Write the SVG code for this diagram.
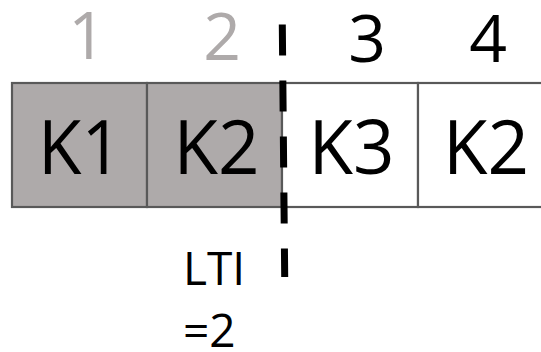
<svg xmlns="http://www.w3.org/2000/svg" width="541" height="352" viewBox="0 0 541 352">
<style>
.cell{stroke:#595959;stroke-width:2.2}
.used{fill:#AEAAAA}
.free{fill:#FFFFFF}
.key{font-family:"Open Sans","Liberation Sans",sans-serif;font-size:75px;fill:#000;text-anchor:middle}
.idx{font-family:"Open Sans","Liberation Sans",sans-serif;font-size:66px;text-anchor:middle}
.idx.g{fill:#AEAAAA}
.idx.b{fill:#000}
.lbl{font-family:"Open Sans","Liberation Sans",sans-serif;font-size:46px;fill:#000}
.cut{stroke:#000;stroke-width:7;stroke-dasharray:31 25;fill:none}
</style>
<rect width="541" height="352" fill="#FFFFFF"/>
<g id="slot1">
<rect class="cell used" x="12" y="83" width="135" height="124"/>
<text class="idx g" x="87" y="59">1</text>
<text class="key" x="80" y="174" textLength="84" lengthAdjust="spacingAndGlyphs">K1</text>
</g>
<g id="slot2">
<rect class="cell used" x="147" y="83" width="135" height="124"/>
<text class="idx g" x="222" y="60">2</text>
<text class="key" x="216.5" y="174" textLength="86" lengthAdjust="spacingAndGlyphs">K2</text>
</g>
<g id="slot3">
<rect class="cell free" x="282" y="83" width="136" height="124"/>
<text class="idx b" x="367" y="62">3</text>
<text class="key" x="351.5" y="174" textLength="86" lengthAdjust="spacingAndGlyphs">K3</text>
</g>
<g id="slot4">
<rect class="cell free" x="418" y="83" width="140" height="124"/>
<text class="idx b" x="488" y="62">4</text>
<text class="key" x="486" y="174" textLength="86" lengthAdjust="spacingAndGlyphs">K2</text>
</g>
<g id="label">
<text class="lbl" x="183" y="285">LTI</text>
<text class="lbl" x="183" y="347">=2</text>
</g>
<g id="connectors">
<line class="cut" x1="282.3" y1="24.5" x2="284.7" y2="277"/>
</g>
</svg>
